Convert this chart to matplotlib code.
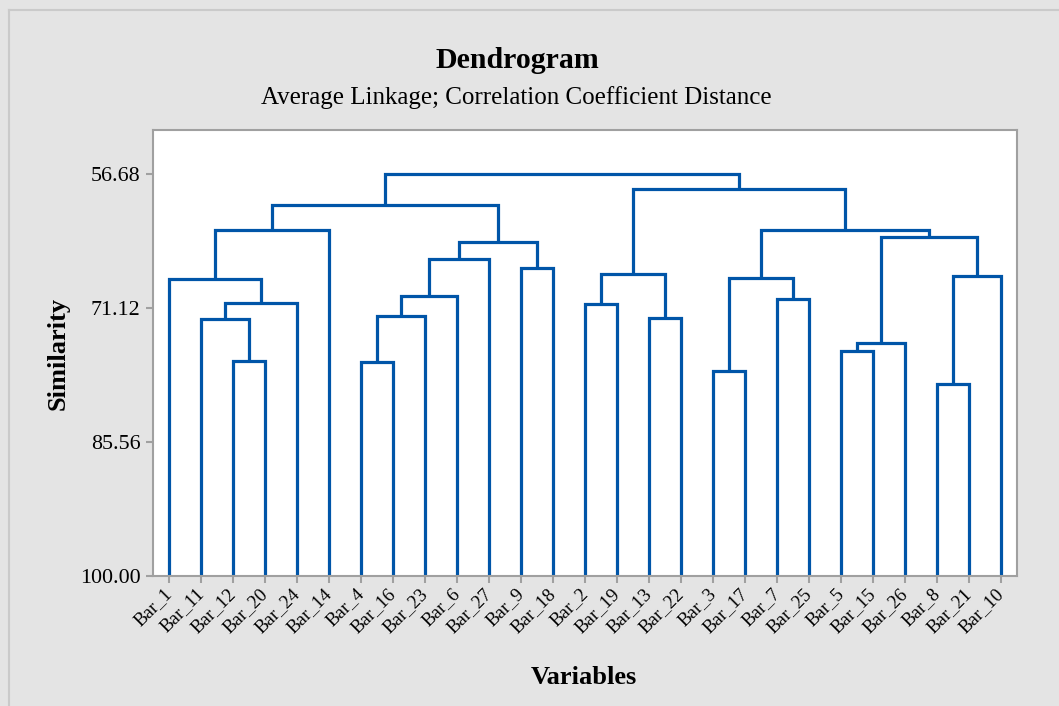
import matplotlib
matplotlib.use("Agg")
import matplotlib.pyplot as plt
from matplotlib.lines import Line2D

plt.rcParams["font.family"] = ["Liberation Serif", "DejaVu Serif"]

# leaves in dendrogram order (left to right)
leaf_labels = [
    "Bar_1", "Bar_11", "Bar_12", "Bar_20", "Bar_24", "Bar_14", "Bar_4",
    "Bar_16", "Bar_23", "Bar_6", "Bar_27", "Bar_9", "Bar_18", "Bar_2",
    "Bar_19", "Bar_13", "Bar_22", "Bar_3", "Bar_17", "Bar_7", "Bar_25",
    "Bar_5", "Bar_15", "Bar_26", "Bar_8", "Bar_21", "Bar_10",
]

# linkage steps: (cluster a, cluster b, similarity level)
# ids 0..26 are leaves (by position above), new clusters get 27, 28, ...
link_a = [24, 17, 6, 2, 21, 31, 1, 15, 29, 13, 33, 19, 35, 0, 28, 27, 36,
          11, 39, 45, 32, 40, 41, 48, 43, 50]
link_b = [25, 18, 7, 3, 22, 23, 30, 16, 8, 14, 4, 20, 9, 37, 38, 26, 34,
          12, 10, 44, 42, 5, 47, 46, 49, 51]
link_sim = [79.29, 77.96, 76.99, 76.85, 75.77, 74.94, 72.35, 72.18, 71.96,
            70.67, 70.56, 70.19, 69.80, 68.04, 67.86, 67.65, 67.43, 66.78,
            65.85, 63.98, 63.51, 62.72, 62.68, 60.02, 58.30, 56.68]

y_ticks = [56.68, 71.12, 85.56, 100.00]

line_color = "#0055A8"
bg_color = "#E4E4E4"

fig = plt.figure(figsize=(10.59, 7.06), dpi=100, facecolor=bg_color)
ax = fig.add_axes([0.1445, 0.1841, 0.8158, 0.6318])
ax.set_facecolor("white")

# x position / height of every node
n = len(leaf_labels)
node_x = list(range(n))
node_h = [100.0] * n
for a, b, s in zip(link_a, link_b, link_sim):
    xa, xb = node_x[a], node_x[b]
    ax.plot([xa, xa, xb, xb], [node_h[a], s, s, node_h[b]],
            color=line_color, lw=2.3, solid_joinstyle="miter",
            solid_capstyle="butt", clip_on=False)
    node_x.append((xa + xb) / 2)
    node_h.append(s)

ax.set_xlim(-0.5, n - 0.5)
ax.set_ylim(100, 51.94)

ax.set_xticks(range(n))
ax.set_xticklabels(leaf_labels, rotation=45, ha="right", va="center",
                   rotation_mode="anchor", fontsize=13.5)
ax.set_yticks(y_ticks)
ax.set_yticklabels([f"{v:.2f}" for v in y_ticks], fontsize=15.8)
ax.tick_params(axis="both", direction="out", length=5, width=1.5,
               color="#A0A0A0", pad=4)
ax.tick_params(axis="x", pad=6)

for sp in ax.spines.values():
    sp.set_color("#A0A0A0")
    sp.set_linewidth(1.5)

ax.set_ylabel("Similarity", fontsize=19, fontweight="bold")
ax.yaxis.set_label_coords(-0.097, 0.5)
fig.text(0.551, 0.040, "Variables", ha="center", va="center",
         fontsize=19, fontweight="bold")

fig.text(0.489, 0.914, "Dendrogram", ha="center", va="center",
         fontsize=21.5, fontweight="bold")
fig.text(0.488, 0.862, "Average Linkage; Correlation Coefficient Distance",
         ha="center", va="center", fontsize=18)

# thin frame around the graph region
fig.add_artist(Line2D([9 / 1059, 9 / 1059], [0, 1 - 10 / 706],
                      transform=fig.transFigure, color="#CACACA", lw=1.5))
fig.add_artist(Line2D([9 / 1059, 1], [1 - 10 / 706, 1 - 10 / 706],
                      transform=fig.transFigure, color="#CACACA", lw=1.5))

fig.savefig("out.png", dpi=100, facecolor=bg_color)
